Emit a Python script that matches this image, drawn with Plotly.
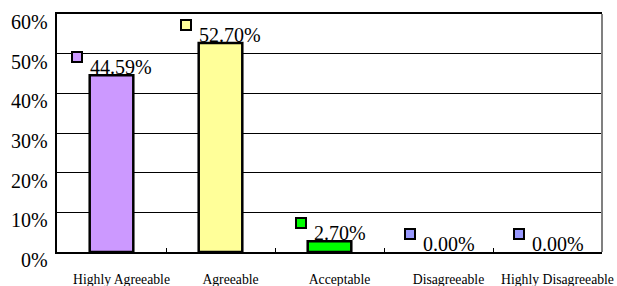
import plotly.graph_objects as go

categories = ["Highly Agreeable", "Agreeable", "Acceptable", "Disagreeable", "Highly Disagreeable"]
values = [44.59, 52.70, 2.70, 0.00, 0.00]
labels = ["44.59%", "52.70%", "2.70%", "0.00%", "0.00%"]
bar_colors = ["#CC99FF", "#FFFF99", "#00FF00", "#9999FF", "#9999FF"]
y_ticks = [0, 10, 20, 30, 40, 50, 60]

FONT = "Liberation Serif"

fig = go.Figure()
fig.add_trace(go.Bar(
    x=categories, y=values, width=0.4,
    marker=dict(color=bar_colors,
                line=dict(color="black", width=[2.5 if v > 0 else 0 for v in values])),
    hoverinfo="skip", showlegend=False,
))

# data labels with legend keys (Excel style)
for c, v, t, col in zip(categories, values, labels, bar_colors):
    tw = 10.4 * len(t)  # approx text width for 20px serif
    group = 12 + 6 + tw
    x_text = -group / 2 + 18
    fig.add_annotation(x=c, y=v, text=t, showarrow=False, xanchor="left", yanchor="bottom",
                       xshift=x_text, yshift=-4, borderpad=0,
                       font=dict(family=FONT, size=20, color="black"))
    fig.add_annotation(x=c, y=v, text=" ", showarrow=False, xanchor="right", yanchor="bottom",
                       xshift=x_text - 6, yshift=12, width=8, height=8, borderpad=0,
                       bgcolor=col, bordercolor="black", borderwidth=2,
                       font=dict(size=2))

# y tick labels (Excel places them slightly below the gridline)
for v in y_ticks:
    fig.add_annotation(xref="paper", x=0, y=v, text=f"{v}%", showarrow=False,
                       xanchor="right", yanchor="middle", xshift=-7, yshift=-8,
                       font=dict(family=FONT, size=20, color="black"))

# right border
fig.add_shape(type="line", xref="paper", yref="paper", x0=1, x1=1, y0=0, y1=1,
              line=dict(color="#808080", width=2))

fig.update_layout(
    width=617, height=286,
    margin=dict(l=57, r=15, t=14, b=34),
    paper_bgcolor="white", plot_bgcolor="white",
    bargap=0.6,
    font=dict(family=FONT, color="black"),
)
fig.update_xaxes(
    type="category", showline=True, linecolor="black", linewidth=1.5, mirror=True,
    ticks="inside", tickson="boundaries", ticklen=4, tickcolor="black",
    tickfont=dict(family=FONT, size=13.7, color="black"), tickangle=0,
    ticklabelshift=10, ticklabelstandoff=14, automargin=False,
    showgrid=False,
)
fig.update_yaxes(
    range=[0, 60], tickvals=y_ticks, showticklabels=False,
    showline=True, linecolor="black", linewidth=1.5,
    showgrid=True, gridcolor="black", gridwidth=1,
    ticks="", zeroline=False, automargin=False,
)

fig.write_html("out.html", config={"displayModeBar": False},
               post_script="document.body.style.margin='0';document.body.style.overflow='hidden';")
